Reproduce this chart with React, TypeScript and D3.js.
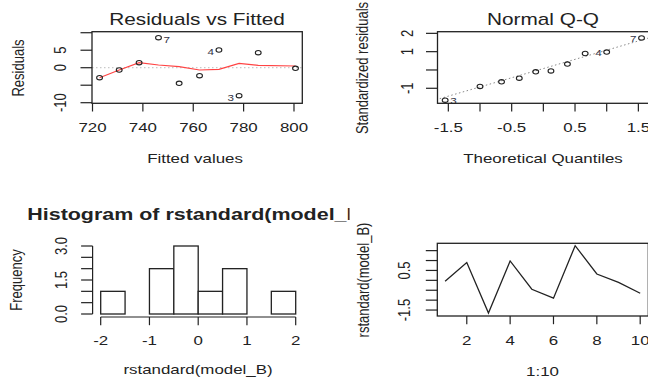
import React from 'react';
import * as d3 from 'd3';

// observations 1..10 of model_B
const obsIds = [1, 2, 3, 4, 5, 6, 7, 8, 9, 10];
const fitted = [800.6, 785.8, 778.2, 770.2, 762.5, 754.4, 746.2, 738.5, 730.6, 722.8];
const residuals = [-0.17, 4.29, -8.0, 5.06, -2.29, -4.46, 8.57, 1.43, -0.66, -2.86];
const stdResid = [-0.05, 0.9, -1.65, 0.98, -0.45, -0.9, 1.75, 0.32, -0.1, -0.65];
// red smoother, at fitted values sorted ascending
const smoothFit = [-2.86, -0.66, 1.43, 0.77, 0.3, -0.66, -0.46, 1.26, 0.69, 0.49];
// theoretical normal quantiles
const theoQ = [-1.55, -1.0, -0.66, -0.38, -0.12, 0.12, 0.38, 0.66, 1.0, 1.55];
const labeledIds = [7, 3, 4];

// histogram
const histBreaks = [-2, -1.5, -1, -0.5, 0, 0.5, 1, 1.5, 2];
const histCounts = [1, 0, 2, 3, 1, 2, 0, 1];

// ticks
const p1xTicks = [720, 740, 760, 780, 800];
const p1yTicks = [-10, -5, 0, 5, 10];
const p1yLabels = [-10, 0, 5];
const p2xTicks = [-1.5, -1, -0.5, 0, 0.5, 1, 1.5];
const p2xLabels = ['-1.5', '-0.5', '0.5', '1.5'];
const p2yTicks = [-1, 0, 1, 2];
const p2yLabels = [-1, 1, 2];
const p3xTicks = [-2, -1, 0, 1, 2];
const p3yTicks = [0, 0.5, 1, 1.5, 2, 2.5, 3];
const p3yLabels = ['0.0', '1.5', '3.0'];
const p4xTicks = [2, 4, 6, 8, 10];
const p4yTicks = [-1.5, -1, -0.5, 0, 0.5, 1, 1.5];
const p4yLabels = ['-1.5', '0.5'];

const FONT = '"Liberation Sans", Arial, sans-serif';
const SX = 1.3; // picture is stretched horizontally
const INK = '#222';

function Txt({ x, y, children, size = 13, anchor = 'middle', rot = false, bold = false, fill = INK }: any) {
  const tr = `translate(${x},${y}) scale(${SX},1)` + (rot ? ' rotate(-90)' : '');
  return (
    <text transform={tr} fontSize={size} textAnchor={anchor} fontFamily={FONT}
      fontWeight={bold ? 'bold' : 'normal'} fill={fill}>{children}</text>
  );
}

function Pt({ cx, cy }: any) {
  return <ellipse cx={cx} cy={cy} rx={2.9} ry={2.2} fill="none" stroke={INK} strokeWidth={1.1} />;
}

export default function App() {
  // panel 1: residuals vs fitted
  const x1 = d3.scaleLinear().domain([719.8, 803.3]).range([92, 302.3]);
  const y1 = d3.scaleLinear().domain([-10.17, 10.29]).range([103.3, 31.7]);
  const order = d3.range(fitted.length).sort((a, b) => fitted[a] - fitted[b]);
  const smoothLine = d3.line<number>()
    .x((i) => x1(fitted[order[i]]))
    .y((i) => y1(smoothFit[i]));

  // panel 2: normal QQ
  const x2 = d3.scaleLinear().domain([-1.671, 1.671]).range([437.5, 649.2]);
  const y2 = d3.scaleLinear().domain([-1.82, 2.09]).range([103.3, 31.7]);
  const qOrder = d3.range(stdResid.length).sort((a, b) => stdResid[a] - stdResid[b]);
  const sorted = qOrder.map((i) => stdResid[i]);
  const q25 = d3.quantile(sorted, 0.25) as number;
  const q75 = d3.quantile(sorted, 0.75) as number;
  const slope = (q75 - q25) / (2 * 0.6745);
  const inter = q25 + 0.6745 * slope;

  // panel 3: histogram
  const x3 = d3.scaleLinear().domain([-2.16, 2.16]).range([92.9, 303.5]);
  const y3 = d3.scaleLinear().domain([0, 3]).range([314, 246]);

  // panel 4: index plot
  const x4 = d3.scaleLinear().domain([0.64, 10.36]).range([437.3, 648]);
  const y4 = d3.scaleLinear().domain([-1.8, 1.87]).range([316, 243.3]);
  const idxLine = d3.line<number>().x((d, i) => x4(obsIds[i])).y((d) => y4(d));

  const tickX = 11.5;
  const tickY = 8.2;
  const idCol = '#334';

  return (
    <svg width={648} height={379} style={{ position: 'absolute', left: 0, top: 0, background: '#fff' }}>
      <defs>
        <clipPath id="c2"><rect x={437.5} y={31.7} width={212} height={71.6} /></clipPath>
        <clipPath id="ct"><rect x={0} y={190} width={349.5} height={40} /></clipPath>
      </defs>

      {/* ---------- Residuals vs Fitted ---------- */}
      <Txt x={197} y={25} size={16}>Residuals vs Fitted</Txt>
      <line x1={x1.range()[0]} x2={x1.range()[1]} y1={y1(0)} y2={y1(0)}
        stroke="#bbb" strokeDasharray="1.5 2.5" />
      <path d={smoothLine(d3.range(order.length)) || ''} fill="none" stroke="#ff4444" strokeWidth={1.2} />
      {fitted.map((f, i) => <Pt key={i} cx={x1(f)} cy={y1(residuals[i])} />)}
      {labeledIds.map((id) => {
        const i = id - 1;
        const right = fitted[i] < (d3.min(fitted)! + d3.max(fitted)!) / 2;
        return (
          <Txt key={id} x={x1(fitted[i]) + (right ? 5 : -5)} y={y1(residuals[i]) + 5}
            size={9} anchor={right ? 'start' : 'end'} fill={idCol}>{id}</Txt>
        );
      })}
      <rect x={92} y={31.7} width={210.3} height={71.6} fill="none" stroke={INK} strokeWidth={1.3} />
      {p1xTicks.map((t) => (
        <g key={t}>
          <line x1={x1(t)} x2={x1(t)} y1={103.3} y2={103.3 + tickY} stroke={INK} strokeWidth={1.2} />
          <Txt x={x1(t)} y={131.7}>{t}</Txt>
        </g>
      ))}
      {p1yTicks.map((t) => (
        <line key={t} x1={92} x2={92 - tickX} y1={y1(t)} y2={y1(t)} stroke={INK} strokeWidth={1.2} />
      ))}
      {p1yLabels.map((t) => <Txt key={t} x={65.7} y={y1(t)} rot>{t}</Txt>)}
      <Txt x={195} y={163}>Fitted values</Txt>
      <Txt x={23.5} y={68} rot>Residuals</Txt>

      {/* ---------- Normal Q-Q ---------- */}
      <Txt x={543} y={25} size={16}>Normal Q-Q</Txt>
      <g clipPath="url(#c2)">
        <line x1={x2(-2)} x2={x2(2)} y1={y2(inter - 2 * slope)} y2={y2(inter + 2 * slope)}
          stroke="#888" strokeDasharray="1.5 2.5" />
        {sorted.map((v, k) => <Pt key={k} cx={x2(theoQ[k])} cy={y2(v)} />)}
      </g>
      {labeledIds.map((id) => {
        const k = qOrder.indexOf(id - 1);
        const right = theoQ[k] < 0;
        return (
          <Txt key={id} x={x2(theoQ[k]) + (right ? 5 : -5)} y={y2(sorted[k]) + 4}
            size={9} anchor={right ? 'start' : 'end'} fill={idCol}>{id}</Txt>
        );
      })}
      <rect x={437.5} y={31.7} width={212} height={71.6} fill="none" stroke={INK} strokeWidth={1.3} />
      {p2xTicks.map((t) => (
        <line key={t} x1={x2(t)} x2={x2(t)} y1={103.3} y2={103.3 + tickY} stroke={INK} strokeWidth={1.2} />
      ))}
      {p2xLabels.map((t) => <Txt key={t} x={x2(+t)} y={131.7}>{t}</Txt>)}
      {p2yTicks.map((t) => (
        <line key={t} x1={437.5} x2={437.5 - tickX} y1={y2(t)} y2={y2(t)} stroke={INK} strokeWidth={1.2} />
      ))}
      {p2yLabels.map((t) => <Txt key={t} x={413} y={y2(t)} rot>{t}</Txt>)}
      <Txt x={543} y={163}>Theoretical Quantiles</Txt>
      <Txt x={368} y={68} rot>Standardized residuals</Txt>

      {/* ---------- Histogram ---------- */}
      <g clipPath="url(#ct)">
        <Txt x={198.2} y={220} size={16.5} bold>Histogram of rstandard(model_B)</Txt>
      </g>
      {histCounts.map((c, i) => (
        <rect key={i} x={x3(histBreaks[i])} y={y3(c)} width={x3(histBreaks[i + 1]) - x3(histBreaks[i])}
          height={y3(0) - y3(c)} fill="#fff" stroke={INK} strokeWidth={1.3} />
      ))}
      <line x1={x3(-2)} x2={x3(2)} y1={317} y2={317} stroke={INK} strokeWidth={1.2} />
      {p3xTicks.map((t) => (
        <g key={t}>
          <line x1={x3(t)} x2={x3(t)} y1={317} y2={317 + tickY} stroke={INK} strokeWidth={1.2} />
          <Txt x={x3(t)} y={345}>{t}</Txt>
        </g>
      ))}
      <line x1={92.6} x2={92.6} y1={y3(0)} y2={y3(3)} stroke={INK} strokeWidth={1.2} />
      {p3yTicks.map((t) => (
        <line key={t} x1={92.6} x2={92.6 - tickX} y1={y3(t)} y2={y3(t)} stroke={INK} strokeWidth={1.2} />
      ))}
      {p3yLabels.map((t) => <Txt key={t} x={67} y={y3(+t)} rot>{t}</Txt>)}
      <Txt x={198} y={374}>rstandard(model_B)</Txt>
      <Txt x={21.5} y={280} rot>Frequency</Txt>

      {/* ---------- Index plot ---------- */}
      <path d={idxLine(stdResid) || ''} fill="none" stroke={INK} strokeWidth={1.3} />
      <rect x={437.3} y={243.3} width={211} height={72.7} fill="none" stroke={INK} strokeWidth={1.3} />
      {p4xTicks.map((t) => (
        <g key={t}>
          <line x1={x4(t)} x2={x4(t)} y1={316} y2={316 + tickY} stroke={INK} strokeWidth={1.2} />
          <Txt x={x4(t)} y={344.5}>{t}</Txt>
        </g>
      ))}
      {p4yTicks.map((t) => (
        <line key={t} x1={437.3} x2={437.3 - tickX} y1={y4(t)} y2={y4(t)} stroke={INK} strokeWidth={1.2} />
      ))}
      {p4yLabels.map((t) => <Txt key={t} x={410} y={y4(+t)} rot>{t}</Txt>)}
      <Txt x={542.5} y={376}>1:10</Txt>
      <Txt x={369} y={280} rot>rstandard(model_B)</Txt>
    </svg>
  );
}
